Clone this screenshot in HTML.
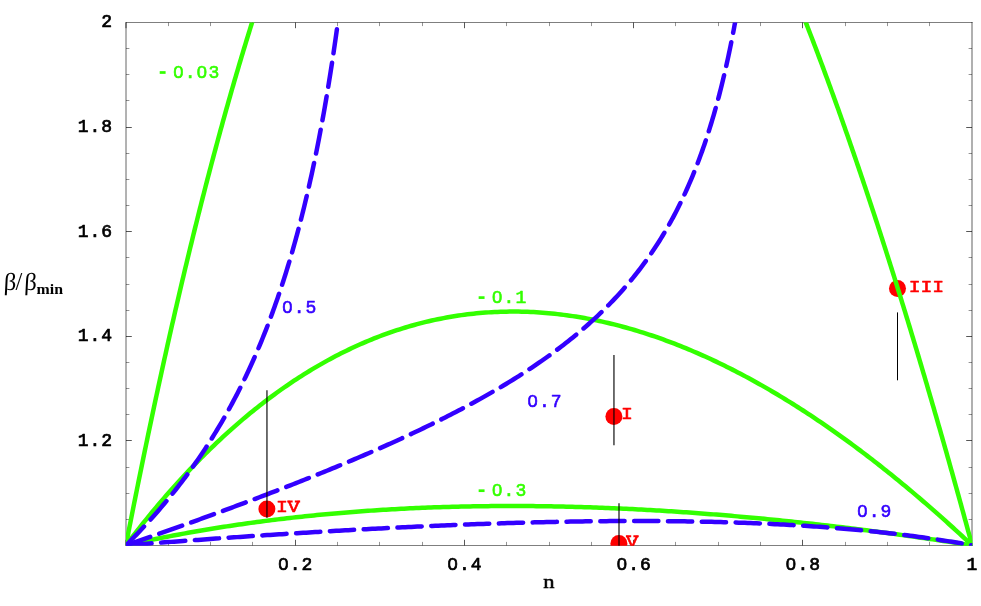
<!DOCTYPE html>
<html><head><meta charset="utf-8"><title>plot</title>
<style>
html,body{margin:0;padding:0;background:#fff;}
body{width:981px;height:606px;overflow:hidden;font-family:"Liberation Sans",sans-serif;}
svg{display:block;}
svg text{font-family:"Liberation Mono",monospace;}
svg text.s{font-family:"Liberation Serif",serif;}
#w{will-change:transform;width:981px;height:606px;}
</style></head><body><div id="w">
<svg width="981" height="606" viewBox="0 0 981 606">
<rect width="981" height="606" fill="#fff"/>
<defs><clipPath id="c"><rect x="125.90" y="22.45" width="846.40" height="523.20"/></clipPath></defs>
<g fill="none" stroke="#000" stroke-width="1">
<path d="M126 22.5 H972.5 M126 545.5 H972.5" stroke-opacity="0.5"/><path d="M972 22 V546" stroke-opacity="0.62"/>
<path d="M126 22 V546" stroke-opacity="0.6"/>
<path d="M126.00 545.50 v-5.70 M126.00 22.50 v5.70" stroke-opacity="0.66"/>
<path d="M168.50 545.50 v-3.60 M168.50 22.50 v3.60" stroke-opacity="0.42"/>
<path d="M210.50 545.50 v-3.60 M210.50 22.50 v3.60" stroke-opacity="0.42"/>
<path d="M252.50 545.50 v-3.60 M252.50 22.50 v3.60" stroke-opacity="0.42"/>
<path d="M295.50 545.50 v-5.70 M295.50 22.50 v5.70" stroke-opacity="0.66"/>
<path d="M337.50 545.50 v-3.60 M337.50 22.50 v3.60" stroke-opacity="0.42"/>
<path d="M379.50 545.50 v-3.60 M379.50 22.50 v3.60" stroke-opacity="0.42"/>
<path d="M422.50 545.50 v-3.60 M422.50 22.50 v3.60" stroke-opacity="0.42"/>
<path d="M464.50 545.50 v-5.70 M464.50 22.50 v5.70" stroke-opacity="0.66"/>
<path d="M506.50 545.50 v-3.60 M506.50 22.50 v3.60" stroke-opacity="0.42"/>
<path d="M549.50 545.50 v-3.60 M549.50 22.50 v3.60" stroke-opacity="0.42"/>
<path d="M591.50 545.50 v-3.60 M591.50 22.50 v3.60" stroke-opacity="0.42"/>
<path d="M633.50 545.50 v-5.70 M633.50 22.50 v5.70" stroke-opacity="0.66"/>
<path d="M675.50 545.50 v-3.60 M675.50 22.50 v3.60" stroke-opacity="0.42"/>
<path d="M718.50 545.50 v-3.60 M718.50 22.50 v3.60" stroke-opacity="0.42"/>
<path d="M760.50 545.50 v-3.60 M760.50 22.50 v3.60" stroke-opacity="0.42"/>
<path d="M802.50 545.50 v-5.70 M802.50 22.50 v5.70" stroke-opacity="0.66"/>
<path d="M845.50 545.50 v-3.60 M845.50 22.50 v3.60" stroke-opacity="0.42"/>
<path d="M887.50 545.50 v-3.60 M887.50 22.50 v3.60" stroke-opacity="0.42"/>
<path d="M929.50 545.50 v-3.60 M929.50 22.50 v3.60" stroke-opacity="0.42"/>
<path d="M126.00 519.50 h3.40 M972.00 519.50 h-3.40" stroke-opacity="0.42"/>
<path d="M126.00 493.50 h3.40 M972.00 493.50 h-3.40" stroke-opacity="0.42"/>
<path d="M126.00 467.50 h3.40 M972.00 467.50 h-3.40" stroke-opacity="0.42"/>
<path d="M126.00 440.50 h5.80 M972.00 440.50 h-5.80" stroke-opacity="0.66"/>
<path d="M126.00 414.50 h3.40 M972.00 414.50 h-3.40" stroke-opacity="0.42"/>
<path d="M126.00 388.50 h3.40 M972.00 388.50 h-3.40" stroke-opacity="0.42"/>
<path d="M126.00 362.50 h3.40 M972.00 362.50 h-3.40" stroke-opacity="0.42"/>
<path d="M126.00 336.50 h5.80 M972.00 336.50 h-5.80" stroke-opacity="0.66"/>
<path d="M126.00 310.50 h3.40 M972.00 310.50 h-3.40" stroke-opacity="0.42"/>
<path d="M126.00 284.50 h3.40 M972.00 284.50 h-3.40" stroke-opacity="0.42"/>
<path d="M126.00 257.50 h3.40 M972.00 257.50 h-3.40" stroke-opacity="0.42"/>
<path d="M126.00 231.50 h5.80 M972.00 231.50 h-5.80" stroke-opacity="0.66"/>
<path d="M126.00 205.50 h3.40 M972.00 205.50 h-3.40" stroke-opacity="0.42"/>
<path d="M126.00 179.50 h3.40 M972.00 179.50 h-3.40" stroke-opacity="0.42"/>
<path d="M126.00 153.50 h3.40 M972.00 153.50 h-3.40" stroke-opacity="0.42"/>
<path d="M126.00 127.50 h5.80 M972.00 127.50 h-5.80" stroke-opacity="0.66"/>
<path d="M126.00 100.50 h3.40 M972.00 100.50 h-3.40" stroke-opacity="0.42"/>
<path d="M126.00 74.50 h3.40 M972.00 74.50 h-3.40" stroke-opacity="0.42"/>
<path d="M126.00 48.50 h3.40 M972.00 48.50 h-3.40" stroke-opacity="0.42"/>
</g>
<g clip-path="url(#c)">
<circle cx="613.90" cy="416.40" r="8.5" fill="#ff0000"/>
<circle cx="897.50" cy="288.60" r="8.5" fill="#ff0000"/>
<circle cx="266.90" cy="508.90" r="8.5" fill="#ff0000"/>
<circle cx="618.90" cy="543.40" r="8.5" fill="#ff0000"/>
<text transform="translate(0 418.90) scale(1 0.870)" x="626.90" y="0" text-anchor="middle" font-size="19.80" font-weight="normal" fill="#ff0000" stroke="#ff0000" stroke-width="0.65" stroke-linejoin="round">I</text>
<text transform="translate(0 291.60) scale(1 0.870)" x="914.60 926.45 938.30" y="0" text-anchor="middle" font-size="19.80" font-weight="normal" fill="#ff0000" stroke="#ff0000" stroke-width="0.65" stroke-linejoin="round">III</text>
<text transform="translate(0 512.30) scale(1 0.870)" x="281.90 293.75" y="0" text-anchor="middle" font-size="19.80" font-weight="normal" fill="#ff0000" stroke="#ff0000" stroke-width="0.65" stroke-linejoin="round">IV</text><path d="M287.35 500.62 h5.3 v1.9 h-5.3z M294.85 500.62 h5.3 v1.9 h-5.3z" fill="#ff0000"/>
<text transform="translate(0 547.00) scale(1 0.870)" x="632.30" y="0" text-anchor="middle" font-size="19.80" font-weight="normal" fill="#ff0000" stroke="#ff0000" stroke-width="0.65" stroke-linejoin="round">V</text><path d="M625.90 535.32 h5.3 v1.9 h-5.3z M633.40 535.32 h5.3 v1.9 h-5.3z" fill="#ff0000"/>
<g fill="none" stroke="#33ff00" stroke-width="4.50" stroke-linecap="round" stroke-linejoin="round">
<path d="M125.90 545.35 L126.49 542.30 L127.08 539.25 L127.68 536.21 L128.27 533.18 L128.86 530.15 L129.45 527.13 L130.05 524.11 L130.64 521.10 L131.23 518.10 L131.82 515.10 L132.42 512.11 L133.01 509.12 L133.60 506.14 L134.19 503.17 L134.79 500.20 L135.38 497.23 L135.97 494.28 L136.56 491.33 L137.15 488.38 L137.77 485.34 L138.38 482.30 L138.99 479.27 L139.61 476.24 L140.22 473.22 L140.84 470.21 L141.45 467.20 L142.06 464.20 L142.68 461.21 L143.29 458.22 L143.90 455.24 L144.52 452.27 L145.13 449.30 L145.74 446.33 L146.36 443.38 L146.97 440.43 L147.58 437.48 L148.20 434.55 L148.83 431.51 L149.47 428.49 L150.10 425.47 L150.74 422.46 L151.37 419.45 L152.01 416.45 L152.64 413.46 L153.27 410.47 L153.91 407.49 L154.54 404.52 L155.18 401.55 L155.81 398.59 L156.45 395.64 L157.08 392.69 L157.72 389.75 L158.35 386.82 L159.01 383.79 L159.66 380.77 L160.32 377.76 L160.97 374.76 L161.63 371.76 L162.29 368.77 L162.94 365.79 L163.60 362.82 L164.25 359.85 L164.91 356.88 L165.57 353.93 L166.22 350.98 L166.88 348.04 L167.53 345.11 L168.21 342.08 L168.89 339.07 L169.56 336.06 L170.24 333.06 L170.92 330.07 L171.59 327.09 L172.27 324.11 L172.95 321.14 L173.63 318.17 L174.30 315.22 L174.98 312.27 L175.66 309.33 L176.33 306.40 L177.01 303.47 L177.71 300.46 L178.41 297.46 L179.10 294.46 L179.80 291.47 L180.50 288.49 L181.20 285.52 L181.90 282.56 L182.60 279.60 L183.29 276.65 L183.99 273.71 L184.69 270.78 L185.39 267.85 L186.09 264.93 L186.81 261.93 L187.52 258.94 L188.24 255.96 L188.96 252.98 L189.68 250.02 L190.40 247.06 L191.12 244.11 L191.84 241.17 L192.56 238.23 L193.28 235.31 L194.00 232.39 L194.74 229.39 L195.48 226.40 L196.22 223.43 L196.96 220.46 L197.70 217.49 L198.44 214.54 L199.18 211.59 L199.92 208.66 L200.66 205.73 L201.40 202.81 L202.14 199.90 L202.90 196.91 L203.67 193.94 L204.43 190.97 L205.19 188.01 L205.95 185.06 L206.71 182.12 L207.47 179.18 L208.24 176.26 L209.00 173.34 L209.76 170.44 L210.54 167.46 L211.32 164.49 L212.11 161.53 L212.89 158.58 L213.67 155.64 L214.45 152.71 L215.24 149.79 L216.02 146.87 L216.80 143.97 L217.61 141.00 L218.41 138.03 L219.21 135.08 L220.02 132.14 L220.82 129.20 L221.63 126.28 L222.43 123.36 L223.23 120.46 L224.04 117.56 L224.86 114.60 L225.69 111.65 L226.51 108.71 L227.34 105.78 L228.16 102.85 L228.99 99.94 L229.81 97.04 L230.64 94.15 L231.48 91.20 L232.33 88.25 L233.18 85.32 L234.02 82.39 L234.87 79.48 L235.72 76.58 L236.56 73.69 L237.41 70.81 L238.28 67.86 L239.14 64.93 L240.01 62.01 L240.88 59.10 L241.74 56.20 L242.61 53.31 L243.48 50.44 L244.37 47.50 L245.26 44.58 L246.15 41.66 L247.03 38.76 L247.92 35.87 L248.81 32.99 L249.70 30.13 L250.61 27.20 L251.52 24.29 L252.43 21.39 L253.34 18.50 L254.25 15.62 L255.16 12.76 L256.09 9.84 L257.02 6.93 L257.06 6.80"/>
<path d="M972.10 545.35 L971.30 542.38 L970.49 539.42 L969.69 536.46 L968.88 533.50 L968.08 530.55 L967.28 527.60 L966.47 524.65 L965.67 521.71 L964.86 518.78 L964.06 515.84 L963.26 512.92 L962.45 509.99 L961.65 507.07 L960.85 504.16 L960.04 501.24 L959.24 498.34 L958.43 495.43 L957.63 492.53 L956.83 489.64 L956.02 486.75 L955.20 483.78 L954.37 480.82 L953.55 477.87 L952.72 474.92 L951.90 471.97 L951.07 469.03 L950.25 466.10 L949.42 463.16 L948.60 460.23 L947.77 457.31 L946.95 454.39 L946.12 451.48 L945.30 448.56 L944.47 445.66 L943.65 442.76 L942.82 439.86 L942.00 436.96 L941.17 434.08 L940.35 431.19 L939.50 428.24 L938.65 425.29 L937.81 422.34 L936.96 419.40 L936.12 416.47 L935.27 413.54 L934.42 410.61 L933.58 407.69 L932.73 404.77 L931.88 401.86 L931.04 398.95 L930.19 396.05 L929.35 393.15 L928.50 390.26 L927.65 387.37 L926.81 384.49 L925.96 381.61 L925.09 378.66 L924.23 375.72 L923.36 372.78 L922.49 369.85 L921.62 366.92 L920.76 364.00 L919.89 361.08 L919.02 358.17 L918.15 355.27 L917.29 352.36 L916.42 349.47 L915.55 346.58 L914.69 343.69 L913.82 340.81 L912.95 337.93 L912.08 335.06 L911.19 332.12 L910.31 329.19 L909.42 326.26 L908.53 323.34 L907.64 320.43 L906.75 317.52 L905.86 314.61 L904.98 311.71 L904.09 308.82 L903.20 305.93 L902.31 303.04 L901.42 300.16 L900.53 297.29 L899.64 294.42 L898.73 291.49 L897.82 288.57 L896.92 285.65 L896.01 282.73 L895.10 279.82 L894.19 276.92 L893.28 274.02 L892.37 271.13 L891.46 268.25 L890.55 265.36 L889.64 262.49 L888.73 259.62 L887.82 256.76 L886.89 253.83 L885.96 250.91 L885.03 248.00 L884.10 245.10 L883.16 242.19 L882.23 239.30 L881.30 236.41 L880.37 233.53 L879.44 230.65 L878.51 227.78 L877.58 224.92 L876.65 222.06 L875.72 219.20 L874.77 216.29 L873.81 213.39 L872.86 210.49 L871.91 207.60 L870.96 204.71 L870.01 201.83 L869.05 198.95 L868.10 196.09 L867.15 193.23 L866.20 190.37 L865.25 187.52 L864.27 184.62 L863.30 181.72 L862.33 178.83 L861.35 175.94 L860.38 173.06 L859.41 170.19 L858.43 167.32 L857.46 164.46 L856.49 161.61 L855.51 158.77 L854.54 155.93 L853.55 153.03 L852.55 150.15 L851.56 147.27 L850.56 144.39 L849.57 141.53 L848.58 138.67 L847.58 135.82 L846.59 132.97 L845.59 130.14 L844.60 127.30 L843.58 124.42 L842.57 121.54 L841.55 118.68 L840.54 115.81 L839.52 112.96 L838.51 110.11 L837.49 107.27 L836.48 104.44 L835.46 101.62 L834.42 98.74 L833.39 95.88 L832.35 93.01 L831.31 90.16 L830.28 87.32 L829.24 84.48 L828.20 81.65 L827.17 78.83 L826.11 75.96 L825.05 73.10 L823.99 70.24 L822.94 67.40 L821.88 64.56 L820.82 61.73 L819.76 58.91 L818.71 56.09 L817.63 53.23 L816.55 50.38 L815.47 47.54 L814.39 44.70 L813.31 41.87 L812.23 39.05 L811.15 36.24 L810.07 33.44 L808.97 30.60 L807.87 27.76 L806.77 24.93 L805.67 22.11 L804.57 19.30 L803.47 16.49 L802.37 13.70 L801.25 10.86 L800.13 8.03 L799.64 6.81"/>
<path d="M125.90 545.35 L127.72 542.95 L129.58 540.52 L131.44 538.09 L133.30 535.69 L135.17 533.30 L137.03 530.92 L138.89 528.56 L140.79 526.16 L142.70 523.77 L144.60 521.41 L146.50 519.05 L148.41 516.71 L150.31 514.39 L152.26 512.03 L154.21 509.69 L156.15 507.37 L158.10 505.06 L160.04 502.76 L162.03 500.44 L164.02 498.13 L166.01 495.83 L168.00 493.55 L169.99 491.29 L172.02 489.00 L174.05 486.73 L176.08 484.47 L178.11 482.22 L180.14 480.00 L182.21 477.75 L184.29 475.51 L186.36 473.29 L188.43 471.09 L190.51 468.90 L192.62 466.69 L194.74 464.50 L196.85 462.33 L198.97 460.17 L201.08 458.03 L203.24 455.86 L205.40 453.72 L207.56 451.59 L209.72 449.48 L211.87 447.39 L214.07 445.28 L216.27 443.18 L218.47 441.10 L220.67 439.05 L222.92 436.97 L225.16 434.91 L227.40 432.87 L229.64 430.85 L231.89 428.85 L234.17 426.83 L236.46 424.83 L238.74 422.85 L241.03 420.89 L243.35 418.91 L245.68 416.96 L248.01 415.02 L250.33 413.11 L252.66 411.21 L255.03 409.30 L257.40 407.41 L259.77 405.54 L262.14 403.69 L264.55 401.83 L266.96 399.99 L269.37 398.17 L271.78 396.37 L274.24 394.57 L276.69 392.78 L279.15 391.01 L281.60 389.27 L284.10 387.52 L286.59 385.79 L289.09 384.08 L291.59 382.40 L294.08 380.73 L296.62 379.06 L299.16 377.41 L301.70 375.79 L304.24 374.18 L306.82 372.57 L309.40 370.99 L311.98 369.43 L314.56 367.89 L317.18 366.35 L319.81 364.83 L322.43 363.33 L325.05 361.86 L327.72 360.39 L330.38 358.94 L333.05 357.51 L335.72 356.11 L338.38 354.73 L341.09 353.35 L343.80 352.00 L346.50 350.67 L349.21 349.37 L351.96 348.06 L354.71 346.79 L357.46 345.53 L360.21 344.31 L362.96 343.10 L365.76 341.90 L368.55 340.73 L371.34 339.58 L374.13 338.45 L376.93 337.35 L379.76 336.26 L382.59 335.19 L385.43 334.15 L388.26 333.13 L391.10 332.14 L393.98 331.16 L396.85 330.20 L399.73 329.27 L402.61 328.36 L405.48 327.48 L408.36 326.62 L411.28 325.78 L414.20 324.96 L417.12 324.16 L420.04 323.39 L422.96 322.65 L425.88 321.93 L428.80 321.24 L431.76 320.56 L434.72 319.91 L437.68 319.28 L440.64 318.68 L443.61 318.10 L446.57 317.55 L449.53 317.02 L452.49 316.52 L455.49 316.04 L458.50 315.58 L461.50 315.14 L464.51 314.74 L467.51 314.35 L470.51 314.00 L473.52 313.66 L476.52 313.36 L479.53 313.07 L482.53 312.82 L485.53 312.58 L488.54 312.37 L491.54 312.19 L494.55 312.03 L497.55 311.89 L500.56 311.78 L503.56 311.69 L506.56 311.63 L509.57 311.59 L512.57 311.57 L515.58 311.58 L518.58 311.61 L521.58 311.67 L524.59 311.75 L527.59 311.85 L530.60 311.97 L533.60 312.12 L536.60 312.29 L539.61 312.49 L542.61 312.70 L545.62 312.94 L548.62 313.21 L551.62 313.49 L554.63 313.80 L557.63 314.13 L560.64 314.48 L563.64 314.86 L566.64 315.26 L569.65 315.68 L572.65 316.12 L575.66 316.59 L578.62 317.07 L581.58 317.57 L584.54 318.09 L587.50 318.63 L590.46 319.20 L593.43 319.78 L596.39 320.39 L599.35 321.02 L602.31 321.66 L605.27 322.33 L608.23 323.02 L611.15 323.72 L614.07 324.44 L616.99 325.18 L619.91 325.94 L622.83 326.72 L625.75 327.52 L628.67 328.34 L631.59 329.17 L634.51 330.03 L637.39 330.90 L640.26 331.78 L643.14 332.68 L646.02 333.60 L648.89 334.54 L651.77 335.50 L654.65 336.47 L657.53 337.47 L660.36 338.46 L663.19 339.48 L666.03 340.51 L668.86 341.56 L671.70 342.63 L674.53 343.72 L677.37 344.82 L680.16 345.92 L682.95 347.04 L685.75 348.18 L688.54 349.34 L691.33 350.51 L694.12 351.70 L696.92 352.90 L699.67 354.10 L702.42 355.32 L705.17 356.55 L707.92 357.80 L710.67 359.07 L713.42 360.35 L716.17 361.65 L718.87 362.94 L721.58 364.25 L724.29 365.57 L727.00 366.91 L729.71 368.26 L732.41 369.63 L735.12 371.02 L737.83 372.41 L740.50 373.81 L743.16 375.21 L745.83 376.63 L748.49 378.06 L751.16 379.51 L753.82 380.97 L756.49 382.45 L759.11 383.92 L761.73 385.40 L764.36 386.89 L766.98 388.40 L769.60 389.92 L772.23 391.46 L774.85 393.00 L777.43 394.54 L780.01 396.09 L782.59 397.65 L785.17 399.23 L787.76 400.82 L790.34 402.42 L792.92 404.03 L795.46 405.63 L797.99 407.24 L800.53 408.86 L803.07 410.50 L805.61 412.15 L808.15 413.81 L810.69 415.48 L813.23 417.17 L815.72 418.84 L818.22 420.52 L820.71 422.21 L823.21 423.91 L825.71 425.63 L828.20 427.35 L830.70 429.09 L833.20 430.84 L835.65 432.57 L838.10 434.31 L840.56 436.06 L843.01 437.83 L845.47 439.60 L847.92 441.39 L850.37 443.18 L852.83 444.99 L855.24 446.78 L857.65 448.57 L860.06 450.38 L862.47 452.20 L864.89 454.03 L867.30 455.87 L869.71 457.71 L872.12 459.57 L874.53 461.44 L876.90 463.29 L879.27 465.14 L881.64 467.01 L884.01 468.89 L886.38 470.77 L888.75 472.67 L891.12 474.57 L893.49 476.49 L895.86 478.41 L898.18 480.31 L900.51 482.22 L902.84 484.14 L905.17 486.06 L907.49 488.00 L909.82 489.94 L912.15 491.90 L914.47 493.86 L916.80 495.84 L919.09 497.78 L921.37 499.74 L923.66 501.70 L925.94 503.67 L928.22 505.65 L930.51 507.64 L932.79 509.64 L935.08 511.65 L937.36 513.66 L939.65 515.69 L941.89 517.68 L944.13 519.68 L946.38 521.69 L948.62 523.71 L950.86 525.74 L953.10 527.78 L955.35 529.82 L957.59 531.87 L959.83 533.93 L962.07 536.00 L964.31 538.08 L966.52 540.12 L968.72 542.18 L970.92 544.24 L972.10 545.35"/>
<path d="M125.90 545.35 L128.86 544.69 L131.82 544.03 L134.79 543.38 L137.75 542.74 L140.71 542.11 L143.67 541.48 L146.63 540.85 L149.59 540.24 L152.56 539.63 L155.52 539.03 L158.48 538.43 L161.44 537.84 L164.40 537.25 L167.36 536.68 L170.33 536.11 L173.29 535.54 L176.25 534.98 L179.21 534.43 L182.17 533.88 L185.13 533.34 L188.10 532.81 L191.06 532.28 L194.02 531.76 L196.98 531.24 L199.94 530.73 L202.90 530.23 L205.87 529.73 L208.83 529.23 L211.79 528.75 L214.75 528.27 L217.76 527.79 L220.76 527.31 L223.76 526.84 L226.77 526.38 L229.77 525.92 L232.78 525.47 L235.78 525.02 L238.78 524.58 L241.79 524.15 L244.79 523.72 L247.80 523.30 L250.80 522.88 L253.80 522.47 L256.81 522.06 L259.81 521.66 L262.82 521.27 L265.82 520.88 L268.82 520.49 L271.83 520.12 L274.83 519.75 L277.84 519.38 L280.84 519.02 L283.84 518.66 L286.85 518.31 L289.85 517.97 L292.86 517.63 L295.86 517.29 L298.86 516.96 L301.87 516.64 L304.87 516.32 L307.88 516.01 L310.88 515.70 L313.88 515.40 L316.89 515.10 L319.89 514.81 L322.90 514.52 L325.90 514.24 L328.90 513.97 L331.91 513.70 L334.91 513.43 L337.92 513.17 L340.92 512.91 L343.92 512.66 L346.93 512.41 L349.93 512.17 L352.94 511.94 L355.94 511.71 L358.94 511.48 L361.95 511.26 L364.95 511.04 L367.96 510.83 L370.96 510.62 L373.96 510.42 L376.97 510.22 L379.97 510.03 L382.98 509.84 L385.98 509.66 L388.98 509.48 L391.99 509.31 L394.99 509.14 L398.00 508.98 L401.00 508.82 L404.00 508.66 L407.01 508.51 L410.01 508.36 L413.02 508.22 L416.02 508.09 L419.02 507.95 L422.03 507.83 L425.03 507.70 L428.04 507.59 L431.04 507.47 L434.04 507.36 L437.05 507.26 L440.05 507.15 L443.06 507.06 L446.06 506.97 L449.06 506.88 L452.07 506.79 L455.07 506.72 L458.08 506.64 L461.08 506.57 L464.08 506.50 L467.09 506.44 L470.09 506.38 L473.10 506.33 L476.10 506.28 L479.10 506.24 L482.11 506.19 L485.11 506.16 L488.12 506.13 L491.12 506.10 L494.12 506.07 L497.13 506.05 L500.13 506.03 L503.14 506.02 L506.14 506.01 L509.14 506.01 L512.15 506.01 L515.15 506.01 L518.16 506.02 L521.16 506.03 L524.16 506.05 L527.17 506.07 L530.17 506.09 L533.18 506.12 L536.18 506.15 L539.18 506.19 L542.19 506.22 L545.19 506.27 L548.20 506.31 L551.20 506.36 L554.20 506.42 L557.21 506.48 L560.21 506.54 L563.22 506.60 L566.22 506.67 L569.22 506.75 L572.23 506.82 L575.23 506.90 L578.24 506.99 L581.24 507.07 L584.24 507.17 L587.25 507.26 L590.25 507.36 L593.26 507.46 L596.26 507.57 L599.26 507.68 L602.27 507.79 L605.27 507.91 L608.28 508.03 L611.28 508.15 L614.28 508.28 L617.29 508.41 L620.29 508.54 L623.30 508.68 L626.30 508.82 L629.30 508.97 L632.31 509.12 L635.31 509.27 L638.32 509.42 L641.32 509.58 L644.32 509.74 L647.33 509.91 L650.33 510.08 L653.34 510.25 L656.34 510.42 L659.34 510.60 L662.35 510.78 L665.35 510.97 L668.36 511.16 L671.36 511.35 L674.36 511.54 L677.37 511.74 L680.37 511.94 L683.38 512.15 L686.38 512.36 L689.38 512.57 L692.39 512.78 L695.39 513.00 L698.40 513.22 L701.40 513.45 L704.40 513.67 L707.41 513.90 L710.41 514.14 L713.42 514.37 L716.42 514.61 L719.42 514.86 L722.43 515.10 L725.43 515.35 L728.44 515.60 L731.44 515.86 L734.44 516.12 L737.45 516.38 L740.45 516.64 L743.46 516.91 L746.46 517.18 L749.46 517.45 L752.47 517.73 L755.47 518.01 L758.48 518.29 L761.48 518.57 L764.48 518.86 L767.49 519.15 L770.49 519.45 L773.50 519.74 L776.50 520.04 L779.50 520.35 L782.51 520.65 L785.51 520.96 L788.52 521.27 L791.52 521.58 L794.52 521.90 L797.53 522.22 L800.53 522.54 L803.54 522.87 L806.54 523.20 L809.54 523.53 L812.55 523.86 L815.55 524.20 L818.56 524.54 L821.56 524.88 L824.57 525.22 L827.57 525.57 L830.57 525.92 L833.58 526.28 L836.58 526.63 L839.59 526.99 L842.59 527.35 L845.59 527.71 L848.60 528.08 L851.60 528.45 L854.61 528.82 L857.61 529.20 L860.61 529.57 L863.62 529.95 L866.62 530.33 L869.63 530.72 L872.63 531.11 L875.63 531.50 L878.64 531.89 L881.64 532.28 L884.65 532.68 L887.65 533.08 L890.65 533.49 L893.66 533.89 L896.66 534.30 L899.67 534.71 L902.67 535.12 L905.67 535.54 L908.68 535.96 L911.68 536.38 L914.69 536.80 L917.69 537.22 L920.69 537.65 L923.70 538.08 L926.70 538.52 L929.71 538.95 L932.71 539.39 L935.71 539.83 L938.72 540.27 L941.72 540.72 L944.73 541.16 L947.73 541.61 L950.73 542.07 L953.74 542.52 L956.74 542.98 L959.75 543.44 L962.75 543.90 L965.75 544.36 L968.76 544.83 L971.76 545.30 L972.10 545.35"/>
</g>
<g fill="none" stroke="#3300ff" stroke-width="4.50" stroke-linecap="round" stroke-linejoin="round">
<path d="M125.90 545.35 L128.04 543.22 L130.16 541.08 L132.26 538.95 L134.37 536.79 L136.46 534.62 L138.53 532.45 L140.61 530.27 L142.67 528.07 L144.71 525.87 L146.76 523.66 L148.79 521.43 L150.80 519.20 L152.82 516.95 L154.82 514.69 L156.80 512.43 L158.77 510.16 L160.74 507.87 L162.69 505.58 L164.63 503.28 L166.55 500.97 L168.48 498.64 L170.39 496.30 L172.28 493.96 L174.16 491.61 L176.02 489.26 L177.88 486.88 L179.73 484.49 L181.57 482.10 L183.38 479.71 L185.19 477.31 L186.99 474.88 L188.78 472.44 L190.55 470.00 L192.30 467.56 L194.05 465.11 L195.77 462.65 L197.50 460.16 L199.21 457.67 L200.91 455.18 L202.59 452.67 L204.26 450.17 L205.91 447.65 L207.54 445.13 L209.18 442.59 L210.80 440.04 L212.40 437.48 L213.99 434.92 L215.57 432.35 L217.13 429.78 L218.68 427.20 L220.21 424.62 L221.73 422.01 L223.25 419.39 L224.75 416.77 L226.23 414.15 L227.70 411.52 L229.16 408.89 L230.60 406.26 L232.03 403.60 L233.46 400.93 L234.87 398.26 L236.26 395.59 L237.64 392.91 L239.00 390.24 L240.37 387.53 L241.71 384.82 L243.05 382.11 L244.36 379.40 L245.67 376.69 L246.95 373.98 L248.24 371.23 L249.51 368.49 L250.77 365.75 L252.01 363.01 L253.24 360.26 L254.47 357.49 L255.68 354.72 L256.88 351.95 L258.06 349.19 L259.24 346.39 L260.41 343.60 L261.56 340.81 L262.69 338.02 L263.83 335.20 L264.95 332.39 L266.06 329.58 L267.15 326.78 L268.24 323.94 L269.31 321.11 L270.37 318.29 L271.42 315.48 L272.46 312.64 L273.49 309.80 L274.51 306.97 L275.52 304.11 L276.52 301.26 L277.51 298.43 L278.49 295.56 L279.46 292.70 L280.41 289.85 L281.37 286.98 L282.31 284.11 L283.25 281.21 L284.17 278.33 L285.08 275.47 L285.99 272.57 L286.88 269.68 L287.78 266.77 L288.65 263.87 L289.52 260.99 L290.38 258.08 L291.23 255.19 L292.08 252.26 L292.91 249.36 L293.74 246.42 L294.56 243.51 L295.36 240.62 L296.17 237.69 L296.95 234.80 L297.74 231.87 L298.51 228.96 L299.29 226.03 L300.04 223.12 L300.80 220.18 L301.54 217.27 L302.29 214.32 L303.01 211.41 L303.74 208.47 L304.47 205.49 L305.18 202.55 L305.89 199.57 L306.59 196.63 L307.29 193.66 L307.97 190.72 L308.65 187.75 L309.31 184.82 L309.98 181.85 L310.65 178.86 L311.30 175.90 L311.95 172.92 L312.59 169.97 L313.22 167.00 L313.86 163.99 L314.48 161.02 L315.10 158.03 L315.71 155.08 L316.31 152.10 L316.92 149.09 L317.51 146.13 L318.10 143.14 L318.69 140.11 L319.27 137.14 L319.84 134.14 L320.40 131.19 L320.96 128.21 L321.52 125.20 L322.07 122.24 L322.61 119.26 L323.16 116.24 L323.69 113.29 L324.22 110.30 L324.75 107.29 L325.28 104.25 L325.79 101.26 L326.31 98.25 L326.82 95.21 L327.32 92.23 L327.82 89.23 L328.32 86.20 L328.81 83.23 L329.29 80.23 L329.78 77.21 L330.26 74.16 L330.73 71.18 L331.20 68.17 L331.67 65.13 L332.14 62.07 L332.60 59.08 L333.05 56.06 L333.50 53.01 L333.94 50.04 L334.38 47.04 L334.82 44.02 L335.26 40.97 L335.69 38.00 L336.11 35.01 L336.53 31.98 L336.96 28.94 L337.38 25.86 L337.79 22.87 L337.84 22.54" stroke-dasharray="24.3 9.6" stroke-dashoffset="-1.80"/>
<path d="M125.90 545.35 L128.75 544.37 L131.60 543.38 L134.44 542.40 L137.29 541.41 L140.14 540.42 L142.99 539.43 L145.84 538.44 L148.68 537.44 L151.53 536.45 L154.38 535.45 L157.23 534.45 L160.08 533.45 L162.92 532.45 L165.77 531.44 L168.62 530.44 L171.47 529.43 L174.32 528.42 L177.16 527.41 L180.01 526.40 L182.86 525.38 L185.71 524.36 L188.56 523.34 L191.40 522.32 L194.25 521.30 L197.10 520.27 L199.95 519.25 L202.80 518.22 L205.64 517.18 L208.49 516.15 L211.34 515.11 L214.19 514.08 L217.04 513.03 L219.88 511.99 L222.73 510.95 L225.58 509.90 L228.43 508.85 L231.28 507.80 L234.09 506.75 L236.90 505.71 L239.72 504.66 L242.53 503.61 L245.34 502.56 L248.16 501.50 L250.97 500.45 L253.79 499.39 L256.60 498.32 L259.41 497.26 L262.23 496.19 L265.04 495.12 L267.85 494.04 L270.67 492.96 L273.48 491.88 L276.30 490.80 L279.11 489.71 L281.92 488.62 L284.74 487.53 L287.55 486.43 L290.36 485.33 L293.18 484.23 L295.99 483.12 L298.81 482.01 L301.62 480.90 L304.43 479.78 L307.25 478.66 L310.06 477.54 L312.87 476.41 L315.69 475.28 L318.50 474.14 L321.31 473.00 L324.09 471.87 L326.87 470.74 L329.65 469.60 L332.43 468.45 L335.21 467.31 L337.99 466.16 L340.77 465.00 L343.55 463.84 L346.33 462.68 L349.11 461.51 L351.89 460.33 L354.67 459.16 L357.45 457.97 L360.23 456.78 L363.01 455.59 L365.79 454.39 L368.56 453.19 L371.34 451.98 L374.12 450.76 L376.90 449.54 L379.65 448.33 L382.39 447.11 L385.14 445.89 L387.88 444.66 L390.63 443.43 L393.37 442.19 L396.12 440.94 L398.86 439.69 L401.61 438.43 L404.35 437.16 L407.10 435.89 L409.84 434.61 L412.59 433.32 L415.33 432.03 L418.08 430.73 L420.79 429.43 L423.50 428.13 L426.21 426.83 L428.92 425.51 L431.63 424.19 L434.34 422.86 L437.05 421.52 L439.76 420.17 L442.48 418.81 L445.19 417.44 L447.86 416.09 L450.54 414.72 L453.22 413.34 L455.89 411.96 L458.57 410.56 L461.24 409.16 L463.92 407.74 L466.60 406.32 L469.27 404.88 L471.92 403.46 L474.56 402.02 L477.20 400.57 L479.84 399.10 L482.48 397.63 L485.13 396.15 L487.77 394.65 L490.38 393.16 L492.98 391.66 L495.59 390.14 L498.20 388.61 L500.81 387.07 L503.42 385.52 L505.99 383.97 L508.56 382.41 L511.14 380.83 L513.71 379.24 L516.28 377.63 L518.82 376.03 L521.36 374.41 L523.90 372.78 L526.44 371.13 L528.98 369.46 L531.48 367.80 L533.99 366.12 L536.49 364.43 L539.00 362.71 L541.47 361.00 L543.94 359.27 L546.41 357.53 L548.88 355.76 L551.32 354.00 L553.75 352.21 L556.19 350.41 L558.59 348.61 L560.99 346.79 L563.40 344.94 L565.80 343.07 L568.17 341.21 L570.53 339.32 L572.90 337.41 L575.23 335.50 L577.57 333.57 L579.87 331.64 L582.17 329.68 L584.46 327.70 L586.73 325.72 L588.99 323.71 L591.26 321.68 L593.49 319.64 L595.72 317.58 L597.92 315.52 L600.11 313.43 L602.27 311.34 L604.43 309.22 L606.56 307.11 L608.69 304.96 L610.82 302.78 L612.91 300.60 L615.00 298.39 L617.06 296.17 L619.12 293.93 L621.15 291.68 L623.17 289.40 L625.16 287.13 L627.15 284.81 L629.11 282.50 L631.03 280.19 L632.95 277.84 L634.84 275.50 L636.72 273.12 L638.58 270.74 L640.43 268.32 L642.25 265.90 L644.07 263.45 L645.85 261.00 L647.60 258.55 L649.35 256.06 L651.07 253.58 L652.78 251.06 L654.46 248.54 L656.11 246.03 L657.76 243.48 L659.37 240.93 L660.98 238.35 L662.56 235.77 L664.14 233.14 L665.68 230.53 L667.19 227.93 L668.70 225.29 L670.18 222.66 L671.65 219.98 L673.10 217.32 L674.54 214.61 L675.94 211.92 L677.32 209.24 L678.69 206.52 L680.03 203.82 L681.37 201.08 L682.67 198.35 L683.97 195.58 L685.24 192.83 L686.51 190.04 L687.75 187.27 L688.98 184.46 L690.18 181.67 L691.38 178.83 L692.55 176.03 L693.72 173.18 L694.85 170.37 L695.98 167.50 L697.08 164.68 L698.18 161.80 L699.24 158.97 L700.31 156.09 L701.34 153.25 L702.37 150.37 L703.36 147.54 L704.36 144.65 L705.35 141.72 L706.31 138.85 L707.27 135.92 L708.20 133.06 L709.13 130.14 L710.05 127.18 L710.94 124.28 L711.84 121.34 L712.69 118.46 L713.55 115.53 L714.41 112.56 L715.23 109.66 L716.06 106.71 L716.88 103.72 L717.67 100.81 L718.46 97.85 L719.25 94.85 L720.00 91.93 L720.76 88.96 L721.51 85.95 L722.23 83.03 L722.95 80.07 L723.67 77.07 L724.39 74.01 L725.08 71.06 L725.77 68.07 L726.45 65.03 L727.11 62.10 L727.76 59.12 L728.41 56.10 L729.06 53.04 L729.68 50.10 L730.30 47.11 L730.91 44.08 L731.53 41.01 L732.15 37.90 L732.73 34.91 L733.32 31.88 L733.90 28.81 L734.48 25.70 L735.03 22.72 L735.07 22.54" stroke-dasharray="24.26 9.58" stroke-dashoffset="-1.50"/>
<path d="M125.90 545.35 L128.90 545.11 L131.91 544.88 L134.91 544.64 L137.92 544.41 L140.92 544.18 L143.92 543.94 L146.93 543.71 L149.93 543.48 L152.94 543.25 L155.94 543.02 L158.94 542.79 L161.95 542.56 L164.95 542.34 L167.96 542.11 L170.96 541.88 L173.96 541.66 L176.97 541.44 L179.97 541.21 L182.98 540.99 L185.98 540.77 L188.98 540.55 L191.99 540.33 L194.99 540.11 L198.00 539.89 L201.00 539.67 L204.00 539.46 L207.01 539.24 L210.01 539.02 L213.02 538.81 L216.02 538.60 L219.02 538.38 L222.03 538.17 L225.03 537.96 L228.04 537.75 L231.04 537.54 L234.04 537.34 L237.05 537.13 L240.05 536.92 L243.06 536.72 L246.06 536.51 L249.06 536.31 L252.07 536.11 L255.07 535.90 L258.08 535.70 L261.08 535.50 L264.08 535.31 L267.09 535.11 L270.09 534.91 L273.10 534.72 L276.10 534.52 L279.10 534.33 L282.11 534.13 L285.11 533.94 L288.12 533.75 L291.12 533.56 L294.12 533.37 L297.13 533.19 L300.13 533.00 L303.14 532.81 L306.14 532.63 L309.14 532.44 L312.15 532.26 L315.15 532.08 L318.16 531.90 L321.16 531.72 L324.16 531.54 L327.17 531.37 L330.17 531.19 L333.18 531.02 L336.18 530.84 L339.18 530.67 L342.19 530.50 L345.19 530.33 L348.20 530.16 L351.20 529.99 L354.20 529.82 L357.21 529.66 L360.21 529.49 L363.22 529.33 L366.22 529.17 L369.22 529.01 L372.23 528.85 L375.23 528.69 L378.24 528.53 L381.24 528.38 L384.24 528.22 L387.25 528.07 L390.25 527.92 L393.26 527.77 L396.26 527.62 L399.26 527.47 L402.27 527.33 L405.27 527.18 L408.28 527.04 L411.28 526.89 L414.28 526.75 L417.29 526.61 L420.29 526.47 L423.30 526.34 L426.30 526.20 L429.31 526.07 L432.31 525.94 L435.31 525.80 L438.32 525.67 L441.32 525.55 L444.33 525.42 L447.33 525.29 L450.33 525.17 L453.34 525.05 L456.34 524.93 L459.35 524.81 L462.35 524.69 L465.35 524.57 L468.36 524.46 L471.36 524.35 L474.37 524.23 L477.37 524.12 L480.37 524.02 L483.38 523.91 L486.38 523.80 L489.39 523.70 L492.39 523.60 L495.39 523.50 L498.40 523.40 L501.40 523.31 L504.41 523.21 L507.41 523.12 L510.41 523.03 L513.42 522.94 L516.42 522.85 L519.43 522.76 L522.43 522.68 L525.43 522.60 L528.44 522.52 L531.44 522.44 L534.45 522.36 L537.45 522.29 L540.45 522.21 L543.46 522.14 L546.46 522.07 L549.47 522.01 L552.47 521.94 L555.47 521.88 L558.48 521.82 L561.48 521.76 L564.49 521.70 L567.49 521.65 L570.49 521.59 L573.50 521.54 L576.50 521.49 L579.51 521.45 L582.51 521.40 L585.51 521.36 L588.52 521.32 L591.52 521.28 L594.53 521.25 L597.53 521.22 L600.53 521.18 L603.54 521.16 L606.54 521.13 L609.55 521.11 L612.55 521.08 L615.55 521.06 L618.56 521.05 L621.56 521.03 L624.57 521.02 L627.57 521.01 L630.57 521.00 L633.58 521.00 L636.58 521.00 L639.59 521.00 L642.59 521.00 L645.59 521.01 L648.60 521.02 L651.60 521.03 L654.61 521.04 L657.61 521.06 L660.61 521.08 L663.62 521.10 L666.62 521.12 L669.63 521.15 L672.63 521.18 L675.63 521.21 L678.64 521.25 L681.64 521.29 L684.65 521.33 L687.65 521.38 L690.65 521.43 L693.66 521.48 L696.66 521.53 L699.67 521.59 L702.67 521.65 L705.67 521.71 L708.68 521.78 L711.68 521.85 L714.69 521.92 L717.69 522.00 L720.69 522.08 L723.70 522.16 L726.70 522.25 L729.71 522.34 L732.71 522.43 L735.71 522.53 L738.72 522.63 L741.72 522.73 L744.73 522.84 L747.73 522.95 L750.73 523.07 L753.74 523.19 L756.74 523.31 L759.75 523.44 L762.75 523.57 L765.75 523.70 L768.76 523.84 L771.76 523.98 L774.77 524.13 L777.77 524.28 L780.77 524.43 L783.78 524.59 L786.78 524.75 L789.79 524.92 L792.79 525.09 L795.79 525.26 L798.80 525.44 L801.80 525.63 L804.81 525.82 L807.81 526.01 L810.81 526.21 L813.82 526.41 L816.82 526.62 L819.83 526.83 L822.83 527.05 L825.83 527.27 L828.84 527.50 L831.84 527.73 L834.85 527.96 L837.85 528.21 L840.85 528.45 L843.86 528.70 L846.86 528.96 L849.87 529.22 L852.87 529.49 L855.87 529.77 L858.88 530.04 L861.88 530.33 L864.89 530.62 L867.89 530.92 L870.89 531.22 L873.90 531.53 L876.90 531.84 L879.91 532.16 L882.91 532.48 L885.91 532.82 L888.92 533.15 L891.92 533.50 L894.93 533.85 L897.93 534.21 L900.93 534.57 L903.94 534.94 L906.94 535.32 L909.95 535.70 L912.95 536.09 L915.95 536.49 L918.96 536.90 L921.96 537.31 L924.97 537.73 L927.97 538.16 L930.97 538.59 L933.98 539.03 L936.98 539.48 L939.99 539.94 L942.99 540.41 L945.99 540.88 L949.00 541.36 L951.96 541.84 L954.92 542.34 L957.88 542.84 L960.85 543.34 L963.81 543.86 L966.77 544.38 L969.73 544.92 L972.10 545.35" stroke-dasharray="24.25 9.58" stroke-dashoffset="-1.50"/>
</g>
<path d="M266.95 390.20 V517.80" stroke="#000" stroke-width="1.25" stroke-opacity="0.90"/>
<path d="M613.95 355.00 V445.20" stroke="#000" stroke-width="1.25" stroke-opacity="0.90"/>
<path d="M897.50 312.40 V380.30" stroke="#000" stroke-width="1.00" stroke-opacity="1.00"/>
<path d="M619.00 503.20 V546.00" stroke="#000" stroke-width="1.25" stroke-opacity="0.90"/>
</g>
<text x="283.30 295.10 306.90" y="569.50" text-anchor="middle" font-size="18.00" font-weight="normal" fill="#000" stroke="#000" stroke-width="0.70" stroke-linejoin="round">0.2</text><rect x="281.50" y="561.09" width="3.60" height="4.86" fill="#fff"/>
<text x="452.60 464.40 476.20" y="569.50" text-anchor="middle" font-size="18.00" font-weight="normal" fill="#000" stroke="#000" stroke-width="0.70" stroke-linejoin="round">0.4</text><rect x="450.80" y="561.09" width="3.60" height="4.86" fill="#fff"/>
<text x="621.80 633.60 645.40" y="569.50" text-anchor="middle" font-size="18.00" font-weight="normal" fill="#000" stroke="#000" stroke-width="0.70" stroke-linejoin="round">0.6</text><rect x="620.00" y="561.09" width="3.60" height="4.86" fill="#fff"/>
<text x="791.00 802.80 814.60" y="569.50" text-anchor="middle" font-size="18.00" font-weight="normal" fill="#000" stroke="#000" stroke-width="0.70" stroke-linejoin="round">0.8</text><rect x="789.20" y="561.09" width="3.60" height="4.86" fill="#fff"/>
<text x="971.90" y="569.50" text-anchor="middle" font-size="18.00" font-weight="normal" fill="#000" stroke="#000" stroke-width="0.70" stroke-linejoin="round">1</text>
<text x="106.70" y="27.35" text-anchor="middle" font-size="18.00" font-weight="normal" fill="#000" stroke="#000" stroke-width="0.70" stroke-linejoin="round">2</text>
<text x="83.10 94.90 106.70" y="131.90" text-anchor="middle" font-size="18.00" font-weight="normal" fill="#000" stroke="#000" stroke-width="0.70" stroke-linejoin="round">1.8</text>
<text x="83.10 94.90 106.70" y="236.50" text-anchor="middle" font-size="18.00" font-weight="normal" fill="#000" stroke="#000" stroke-width="0.70" stroke-linejoin="round">1.6</text>
<text x="83.10 94.90 106.70" y="341.10" text-anchor="middle" font-size="18.00" font-weight="normal" fill="#000" stroke="#000" stroke-width="0.70" stroke-linejoin="round">1.4</text>
<text x="83.10 94.90 106.70" y="445.70" text-anchor="middle" font-size="18.00" font-weight="normal" fill="#000" stroke="#000" stroke-width="0.70" stroke-linejoin="round">1.2</text>
<text class="s" transform="translate(548.95 587.7) scale(1.24 1)" text-anchor="middle" font-size="18.2" fill="#000" stroke="#000" stroke-width="0.5">n</text>
<text x="178.40 190.20 202.00 213.80" y="77.90" text-anchor="middle" font-size="18.00" font-weight="normal" fill="#33ff00" stroke="#33ff00" stroke-width="0.62" stroke-linejoin="round">0.03</text><rect x="176.60" y="69.49" width="3.60" height="4.86" fill="#fff"/><rect x="200.20" y="69.49" width="3.60" height="4.86" fill="#fff"/><rect x="159.70" y="71.15" width="5.9" height="2.7" fill="#33ff00"/>
<text x="497.20 509.00 520.80" y="303.00" text-anchor="middle" font-size="18.00" font-weight="normal" fill="#33ff00" stroke="#33ff00" stroke-width="0.62" stroke-linejoin="round">0.1</text><rect x="495.40" y="294.59" width="3.60" height="4.86" fill="#fff"/><rect x="478.65" y="296.25" width="5.9" height="2.7" fill="#33ff00"/>
<text x="497.20 509.00 520.80" y="496.10" text-anchor="middle" font-size="18.00" font-weight="normal" fill="#33ff00" stroke="#33ff00" stroke-width="0.62" stroke-linejoin="round">0.3</text><rect x="495.40" y="487.69" width="3.60" height="4.86" fill="#fff"/><rect x="478.65" y="489.35" width="5.9" height="2.7" fill="#33ff00"/>
<text x="287.40 299.20 311.00" y="312.90" text-anchor="middle" font-size="18.00" font-weight="normal" fill="#3300ff" stroke="#3300ff" stroke-width="0.62" stroke-linejoin="round">0.5</text><rect x="285.60" y="304.49" width="3.60" height="4.86" fill="#fff"/>
<text x="532.60 544.40 556.20" y="406.80" text-anchor="middle" font-size="18.00" font-weight="normal" fill="#3300ff" stroke="#3300ff" stroke-width="0.62" stroke-linejoin="round">0.7</text><rect x="530.80" y="398.39" width="3.60" height="4.86" fill="#fff"/>
<text x="862.30 874.10 885.90" y="516.80" text-anchor="middle" font-size="18.00" font-weight="normal" fill="#3300ff" stroke="#3300ff" stroke-width="0.62" stroke-linejoin="round">0.9</text><rect x="860.50" y="508.39" width="3.60" height="4.86" fill="#fff"/>
<text class="s" transform="translate(3.5 290.2) skewX(-3)" font-size="24.6" fill="#000">β</text>
<text class="s" transform="translate(15.6 290.2)" font-size="24.6" fill="#000">/</text>
<text class="s" transform="translate(24.0 290.2) skewX(-3)" font-size="24.6" fill="#000">β</text>
<text class="s" transform="translate(36.5 293.8) scale(1 0.97)" font-size="15.9" font-weight="bold" fill="#000">min</text>
</svg></div></body></html>
